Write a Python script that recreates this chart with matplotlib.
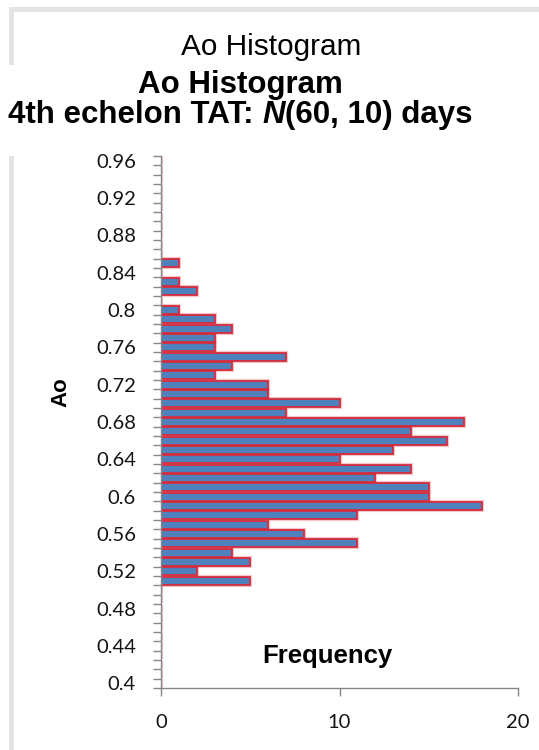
import numpy as np
import matplotlib
matplotlib.use("Agg")
import matplotlib.pyplot as plt
from matplotlib.patches import Rectangle

# Ao bins (0.40 .. 0.96, step 0.01) and counts per bin
ao_bins = np.round(np.arange(0.40, 0.9651, 0.01), 2)
frequency = [0, 0, 0, 0, 0, 0, 0, 0, 0, 0, 0,          # 0.40 - 0.50
             5, 2, 5, 4, 11, 8, 6, 11, 18, 15,           # 0.51 - 0.60
             15, 12, 14, 10, 13, 16, 14, 17, 7, 10,      # 0.61 - 0.70
             6, 6, 3, 4, 7, 3, 3, 4, 3, 1,               # 0.71 - 0.80
             0, 2, 1, 0, 1,                              # 0.81 - 0.85
             0, 0, 0, 0, 0, 0, 0, 0, 0, 0, 0]            # 0.86 - 0.96
label_every = 4
x_ticks = [0, 10, 20]

W, H = 539, 750
fig = plt.figure(figsize=(W / 100, H / 100), dpi=100)


def fx(px):
    return px / W


def fy(py):
    return 1 - py / H


# grey frame, partly hidden behind the white title box
frame_col = "#e3e3e3"
fig.add_artist(Rectangle((fx(9), fy(12)), fx(W - 9), 5 / H, transform=fig.transFigure,
                         color=frame_col, lw=0))
fig.add_artist(Rectangle((fx(9), fy(65)), 5 / W, 58 / H, transform=fig.transFigure,
                         color=frame_col, lw=0))
fig.add_artist(Rectangle((fx(9), fy(H)), 5 / W, (H - 156) / H, transform=fig.transFigure,
                         color=frame_col, lw=0))

ax = fig.add_axes([fx(161), fy(688), fx(518 - 161), (688 - 156) / H])

pos = np.arange(len(ao_bins))
ax.barh(pos, frequency, height=0.84, color="#4f81bd", edgecolor="#f4a0a8",
        linewidth=3.0, alpha=0.6)
ax.barh(pos, frequency, height=0.84, color="#4f81bd", edgecolor="#d52b3c",
        linewidth=1.3)

ax.set_ylim(-0.5, len(ao_bins) - 0.5)
ax.set_xlim(0, 20)

tick_font = dict(family="Lato", size=14.5)
ax.set_yticks(pos[::label_every])
ax.set_yticklabels([f"{v:g}" for v in ao_bins[::label_every]], **tick_font, color="#141414")
ax.set_yticks(np.arange(-0.5, len(ao_bins)), minor=True)
ax.tick_params(axis="y", which="major", length=0, pad=18)
ax.tick_params(axis="y", which="minor", length=6, width=1, color="#868686")

ax.set_xticks(x_ticks)
ax.set_xticklabels([str(v) for v in x_ticks], **tick_font, color="#141414")
ax.tick_params(axis="x", length=6, width=1, color="#868686", pad=13)

for s in ["top", "right"]:
    ax.spines[s].set_visible(False)
for s in ["left", "bottom"]:
    ax.spines[s].set_color("#868686")
    ax.spines[s].set_linewidth(1)

# axis titles
fig.text(fx(327), fy(663), "Frequency", family="Liberation Sans", weight="bold",
         size=18.5, ha="center", va="baseline")
fig.text(fx(61), fy(392), "Ao", family="Liberation Sans", weight="bold",
         size=16, rotation=90, ha="center", va="center")

# titles
fig.text(fx(271), fy(55), "Ao Histogram", family="Liberation Sans", size=21.4,
         ha="center", va="baseline")
fig.text(fx(240), fy(93), "Ao Histogram", family="Liberation Sans", weight="bold",
         size=22.5, ha="center", va="baseline")

# third line: bold text with a bold-italic N, centred on x=240 px
bold = dict(family="Liberation Sans", weight="bold", size=22.5, va="baseline")
renderer = fig.canvas.get_renderer()


def text_w(s, **kw):
    t = fig.text(0, 0, s, **kw)
    w = t.get_window_extent(renderer).width
    t.remove()
    return w


w_a = text_w("4th echelon TAT:", **bold)
w_sp = text_w("x x", **bold) - text_w("xx", **bold)
w_n = text_w("N", style="italic", **bold)
w_c = text_w("(60, 10) days", **bold)
x0 = 240 - (w_a + w_sp + w_n + w_c) / 2
y3 = fy(123)
fig.text(fx(x0), y3, "4th echelon TAT:", ha="left", **bold)
fig.text(fx(x0 + w_a + w_sp), y3, "N", style="italic", ha="left", **bold)
fig.text(fx(x0 + w_a + w_sp + w_n), y3, "(60, 10) days", ha="left", **bold)

fig.savefig("out.png", dpi=100)
